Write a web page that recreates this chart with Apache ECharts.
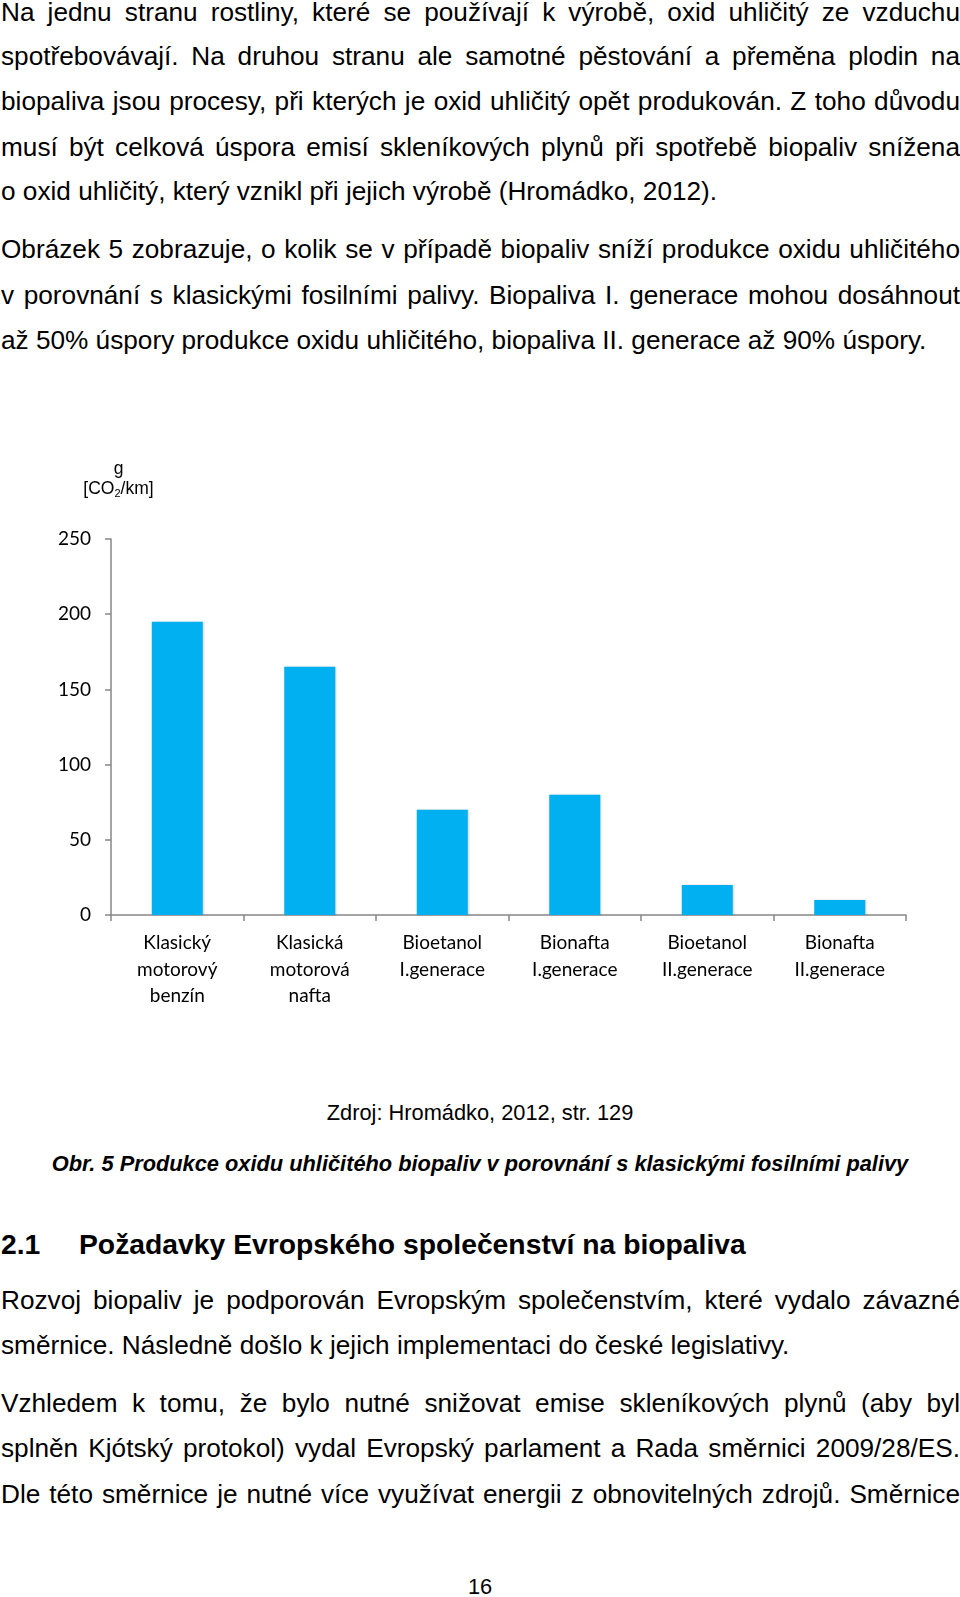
<!DOCTYPE html>
<html>
<head>
<meta charset="utf-8">
<script src="https://cdn.jsdelivr.net/npm/echarts@6/dist/echarts.min.js"></script>
<style>
html,body{margin:0;padding:0;background:#fff;}
body{width:960px;height:1597px;position:relative;overflow:hidden;font-family:"Liberation Sans",Arial,sans-serif;color:#000;}
.l{position:absolute;left:1px;width:959px;font-size:26.2px;line-height:30px;height:30px;white-space:nowrap;}
.j{text-align:justify;text-align-last:justify;white-space:normal;}
.c{position:absolute;left:0;width:960px;text-align:center;font-size:21.8px;line-height:28px;}
.h{position:absolute;top:1227px;font-size:28.3px;line-height:34px;font-weight:bold;white-space:nowrap;}
#chart{position:absolute;left:0;top:430px;width:960px;height:600px;}
</style>
</head>
<body>
<div class="l j" style="top:-3px">Na jednu stranu rostliny, které se používají k&nbsp;výrobě, oxid uhličitý ze vzduchu</div>
<div class="l j" style="top:41px">spotřebovávají. Na druhou stranu ale samotné pěstování a přeměna plodin na</div>
<div class="l j" style="top:86px">biopaliva jsou procesy, při kterých je oxid uhličitý opět produkován. Z toho důvodu</div>
<div class="l j" style="top:132px">musí být celková úspora emisí skleníkových plynů při spotřebě biopaliv snížena</div>
<div class="l" style="top:176px">o oxid uhličitý, který vznikl při jejich výrobě (Hromádko, 2012).</div>

<div class="l j" style="top:234px">Obrázek 5 zobrazuje, o kolik se v případě biopaliv sníží produkce oxidu uhličitého</div>
<div class="l j" style="top:280px">v porovnání s klasickými fosilními palivy. Biopaliva I. generace mohou dosáhnout</div>
<div class="l" style="top:325px">až 50% úspory produkce oxidu uhličitého, biopaliva II. generace až 90% úspory.</div>

<div id="chart"></div>

<div class="c" style="top:1099px;">Zdroj: Hromádko, 2012, str. 129</div>
<div class="c" style="top:1150px;font-weight:bold;font-style:italic;">Obr. 5 Produkce oxidu uhličitého biopaliv v porovnání s klasickými fosilními palivy</div>

<div class="h" style="left:1px;">2.1</div>
<div class="h" style="left:79px;">Požadavky Evropského společenství na biopaliva</div>

<div class="l j" style="top:1285px">Rozvoj biopaliv je podporován Evropským společenstvím, které vydalo závazné</div>
<div class="l" style="top:1330px">směrnice. Následně došlo k jejich implementaci do české legislativy.</div>

<div class="l j" style="top:1388px">Vzhledem k&nbsp;tomu, že bylo nutné snižovat emise skleníkových plynů (aby byl</div>
<div class="l j" style="top:1433px">splněn Kjótský protokol) vydal Evropský parlament a Rada směrnici 2009/28/ES.</div>
<div class="l j" style="top:1479px">Dle této směrnice je nutné více využívat energii z obnovitelných zdrojů. Směrnice</div>

<div class="c" style="top:1573px;">16</div>

<script>
var categories = [
  "Klasický\nmotorový\nbenzín",
  "Klasická\nmotorová\nnafta",
  "Bioetanol\nI.generace",
  "Bionafta\nI.generace",
  "Bioetanol\nII.generace",
  "Bionafta\nII.generace"
];
var co2Values = [195, 165, 70, 80, 20, 10];
var yMin = 0, yMax = 250, yStep = 50;

var chart = echarts.init(document.getElementById('chart'), null, {renderer: 'canvas'});
var axisColor = '#868686';
chart.setOption({
  animation: false,
  backgroundColor: '#fff',
  grid: {left: 111, right: 54, top: 109, height: 376},
  xAxis: {
    type: 'category',
    data: categories,
    axisLine: {lineStyle: {color: axisColor, width: 1.5}},
    axisTick: {show: true, length: 6, lineStyle: {color: axisColor, width: 1.5}},
    axisLabel: {color: '#000', fontFamily: 'Lato', fontSize: 19, lineHeight: 26.5, margin: 15, interval: 0}
  },
  yAxis: {
    type: 'value',
    min: yMin, max: yMax, interval: yStep,
    name: '{a|g}\n{a|[CO}{s|2}{a|/km]}',
    nameLocation: 'end',
    nameGap: 40,
    nameTextStyle: {
      align: 'center',
      padding: [0, 0, 0, 15],
      rich: {
        a: {fontFamily: 'Liberation Sans', fontSize: 17.5, color: '#000', lineHeight: 20},
        s: {fontFamily: 'Liberation Sans', fontSize: 11, color: '#000', lineHeight: 20, verticalAlign: 'bottom', padding: [6,0,0,0]}
      }
    },
    splitLine: {show: false},
    axisLine: {show: true, lineStyle: {color: axisColor, width: 1.5}},
    axisTick: {show: true, length: 6, lineStyle: {color: axisColor, width: 1.5}},
    axisLabel: {color: '#000', fontFamily: 'Lato', fontSize: 19, margin: 20}
  },
  series: [{
    type: 'bar',
    data: co2Values,
    barWidth: '38.5%',
    itemStyle: {color: '#00B0F0', shadowColor: 'rgba(0,0,0,0.18)', shadowBlur: 2, shadowOffsetX: 1}
  }]
});
</script>
</body>
</html>
